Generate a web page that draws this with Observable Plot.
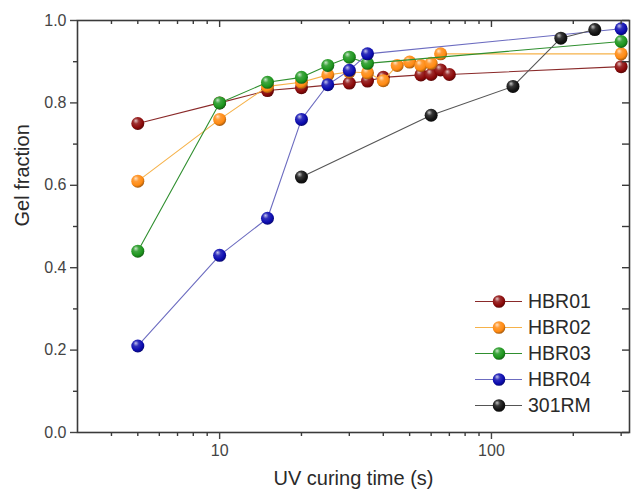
<!DOCTYPE html>
<html><head><meta charset="utf-8">
<script src="https://cdn.jsdelivr.net/npm/d3@7"></script>
<script src="https://cdn.jsdelivr.net/npm/@observablehq/plot@0.6"></script>
<style>
body{margin:0;background:#fff;}
#chart svg{font-family:"Liberation Sans",Arial,sans-serif;background:#fff;}
</style>
</head><body><div id="chart"></div>
<script>
// ---- data ----
const seriesNames = ["HBR01","HBR02","HBR03","HBR04","301RM"];
const timeHBR01 = [5,10,15,20,30,35,40,55,60,65,70,300];
const gelHBR01  = [0.75,0.80,0.83,0.837,0.848,0.853,0.862,0.868,0.869,0.88,0.869,0.888];
const timeHBR02 = [5,10,15,20,25,30,35,40,45,50,55,60,65,300];
const gelHBR02  = [0.61,0.76,0.84,0.85,0.868,0.875,0.873,0.854,0.891,0.899,0.891,0.896,0.919,0.919];
const timeHBR03 = [5,10,15,20,25,30,35,300];
const gelHBR03  = [0.44,0.80,0.85,0.862,0.891,0.911,0.896,0.949];
const timeHBR04 = [5,10,15,20,25,30,35,300];
const gelHBR04  = [0.21,0.43,0.52,0.76,0.844,0.879,0.919,0.98];
const time301RM = [20,60,120,180,240];
const gel301RM  = [0.62,0.77,0.84,0.957,0.978];

const yMajorTicks = [0,0.2,0.4,0.6,0.8,1.0];
const yMinorTicks = [0.1,0.3,0.5,0.7,0.9];
const xMajorTicks = [10,100];
const xMinorTicks = [4,5,6,7,8,9,20,30,40,50,60,70,80,90,200,300];
const xLabel = "UV curing time (s)";
const yLabel = "Gel fraction";

// ---- styles ----
const dotColors  = {HBR01:"#8c0a0a", HBR02:"#ff8a12", HBR03:"#1e961e", HBR04:"#0c0cb0", "301RM":"#141414"};
const lineColors = {HBR01:"#8a2a2a", HBR02:"#f6b24a", HBR03:"#2f8f2f", HBR04:"#6c6cc0", "301RM":"#555555"};
const axisColor = "#3a3a3a";

const timesBy = {HBR01:timeHBR01, HBR02:timeHBR02, HBR03:timeHBR03, HBR04:timeHBR04, "301RM":time301RM};
const gelsBy  = {HBR01:gelHBR01, HBR02:gelHBR02, HBR03:gelHBR03, HBR04:gelHBR04, "301RM":gel301RM};
const rows = seriesNames.flatMap(s => timesBy[s].map((t,i) => ({series:s, time:t, gel:gelsBy[s][i]})));

const W = 636, H = 496;
const mL = 77, mR = 7, mT = 20, mB = 64;
const fw = W - mL - mR, fh = H - mT - mB;
const gid = s => "grad" + s;

function defsMark() {
  const defs = d3.create("svg:defs");
  for (const s of seriesNames) {
    const c = d3.color(dotColors[s]);
    const g = defs.append("radialGradient").attr("id", gid(s))
      .attr("cx","0.42").attr("cy","0.38").attr("r","0.62").attr("fx","0.34").attr("fy","0.28");
    g.append("stop").attr("offset","0%").attr("stop-color", d3.interpolateRgb(c, "#fff")(0.75));
    g.append("stop").attr("offset","35%").attr("stop-color", d3.interpolateRgb(c, "#fff")(0.15));
    g.append("stop").attr("offset","75%").attr("stop-color", c.formatHex());
    g.append("stop").attr("offset","100%").attr("stop-color", c.darker(1.2).formatHex());
  }
  return defs.node();
}

function legendMark(index, scales, values, dims) {
  const g = d3.create("svg:g");
  const right = dims.width - dims.marginRight;
  seriesNames.forEach((s, i) => {
    const y = 301.5 + 26 * i;
    g.append("line").attr("x1", right - 154).attr("x2", right - 107).attr("y1", y).attr("y2", y)
      .attr("stroke", lineColors[s]).attr("stroke-width", 1.2);
    g.append("circle").attr("cx", right - 130).attr("cy", y).attr("r", 6.3).attr("fill", `url(#${gid(s)})`);
    g.append("text").attr("x", right - 101).attr("y", y).attr("dy", "0.35em")
      .attr("text-anchor", "start")
      .attr("font-size", 19.5).attr("fill", "#2a2a2a").text(s);
  });
  return g.node();
}

const seriesMarks = seriesNames.flatMap(s => {
  const d = rows.filter(r => r.series === s);
  return [
    Plot.line(d, {x:"time", y:"gel", stroke: lineColors[s], strokeWidth: 1.1}),
    Plot.dot(d, {x:"time", y:"gel", r: 6.5, fill: `url(#${gid(s)})`, stroke: "none"})
  ];
});

const chart = Plot.plot({
  width: W, height: H,
  marginLeft: mL, marginRight: mR, marginTop: mT, marginBottom: mB,
  x: {type: "log", domain: [3, 322]},
  y: {domain: [0, 1]},
  style: {fontFamily: '"Liberation Sans", Arial, sans-serif', background: "#fff"},
  marks: [
    defsMark,
    ...seriesMarks,
    Plot.frame({stroke: axisColor, strokeWidth: 1.6}),
    Plot.axisY(yMajorTicks, {anchor:"left", tickSize:7, tickPadding:4, tickFormat: d3.format(".1f"), fontSize:16, color:"#444", strokeWidth:1.4, label:null}),
    Plot.axisY(yMinorTicks, {anchor:"left", tickSize:4, tickFormat: () => "", color:axisColor, strokeWidth:1.4, label:null}),
    Plot.axisX(xMajorTicks, {anchor:"bottom", tickSize:7, tickPadding:5, tickFormat: d => String(d), fontSize:16, color:"#444", strokeWidth:1.4, label:null}),
    Plot.axisX(xMinorTicks, {anchor:"bottom", tickSize:4, tickFormat: () => "", color:axisColor, strokeWidth:1.4, label:null}),
    Plot.tickX(xMajorTicks, {x: d => d, insetBottom: fh - 7, stroke: axisColor, strokeWidth: 1.4}),
    Plot.tickX(xMinorTicks, {x: d => d, insetBottom: fh - 4, stroke: axisColor, strokeWidth: 1.4}),
    Plot.tickY(yMajorTicks.concat(yMinorTicks), {y: d => d, insetLeft: fw - 7, stroke: axisColor, strokeWidth: 1.4}),
    Plot.text([xLabel], {frameAnchor: "bottom", dy: 52, fontSize: 20, fill: "#2a2a2a", text: d => d}),
    Plot.text([yLabel], {frameAnchor: "left", dx: -55, rotate: -90, fontSize: 20, fill: "#2a2a2a", text: d => d}),
    legendMark
  ]
});
document.getElementById("chart").appendChild(chart);
</script>
</body></html>
